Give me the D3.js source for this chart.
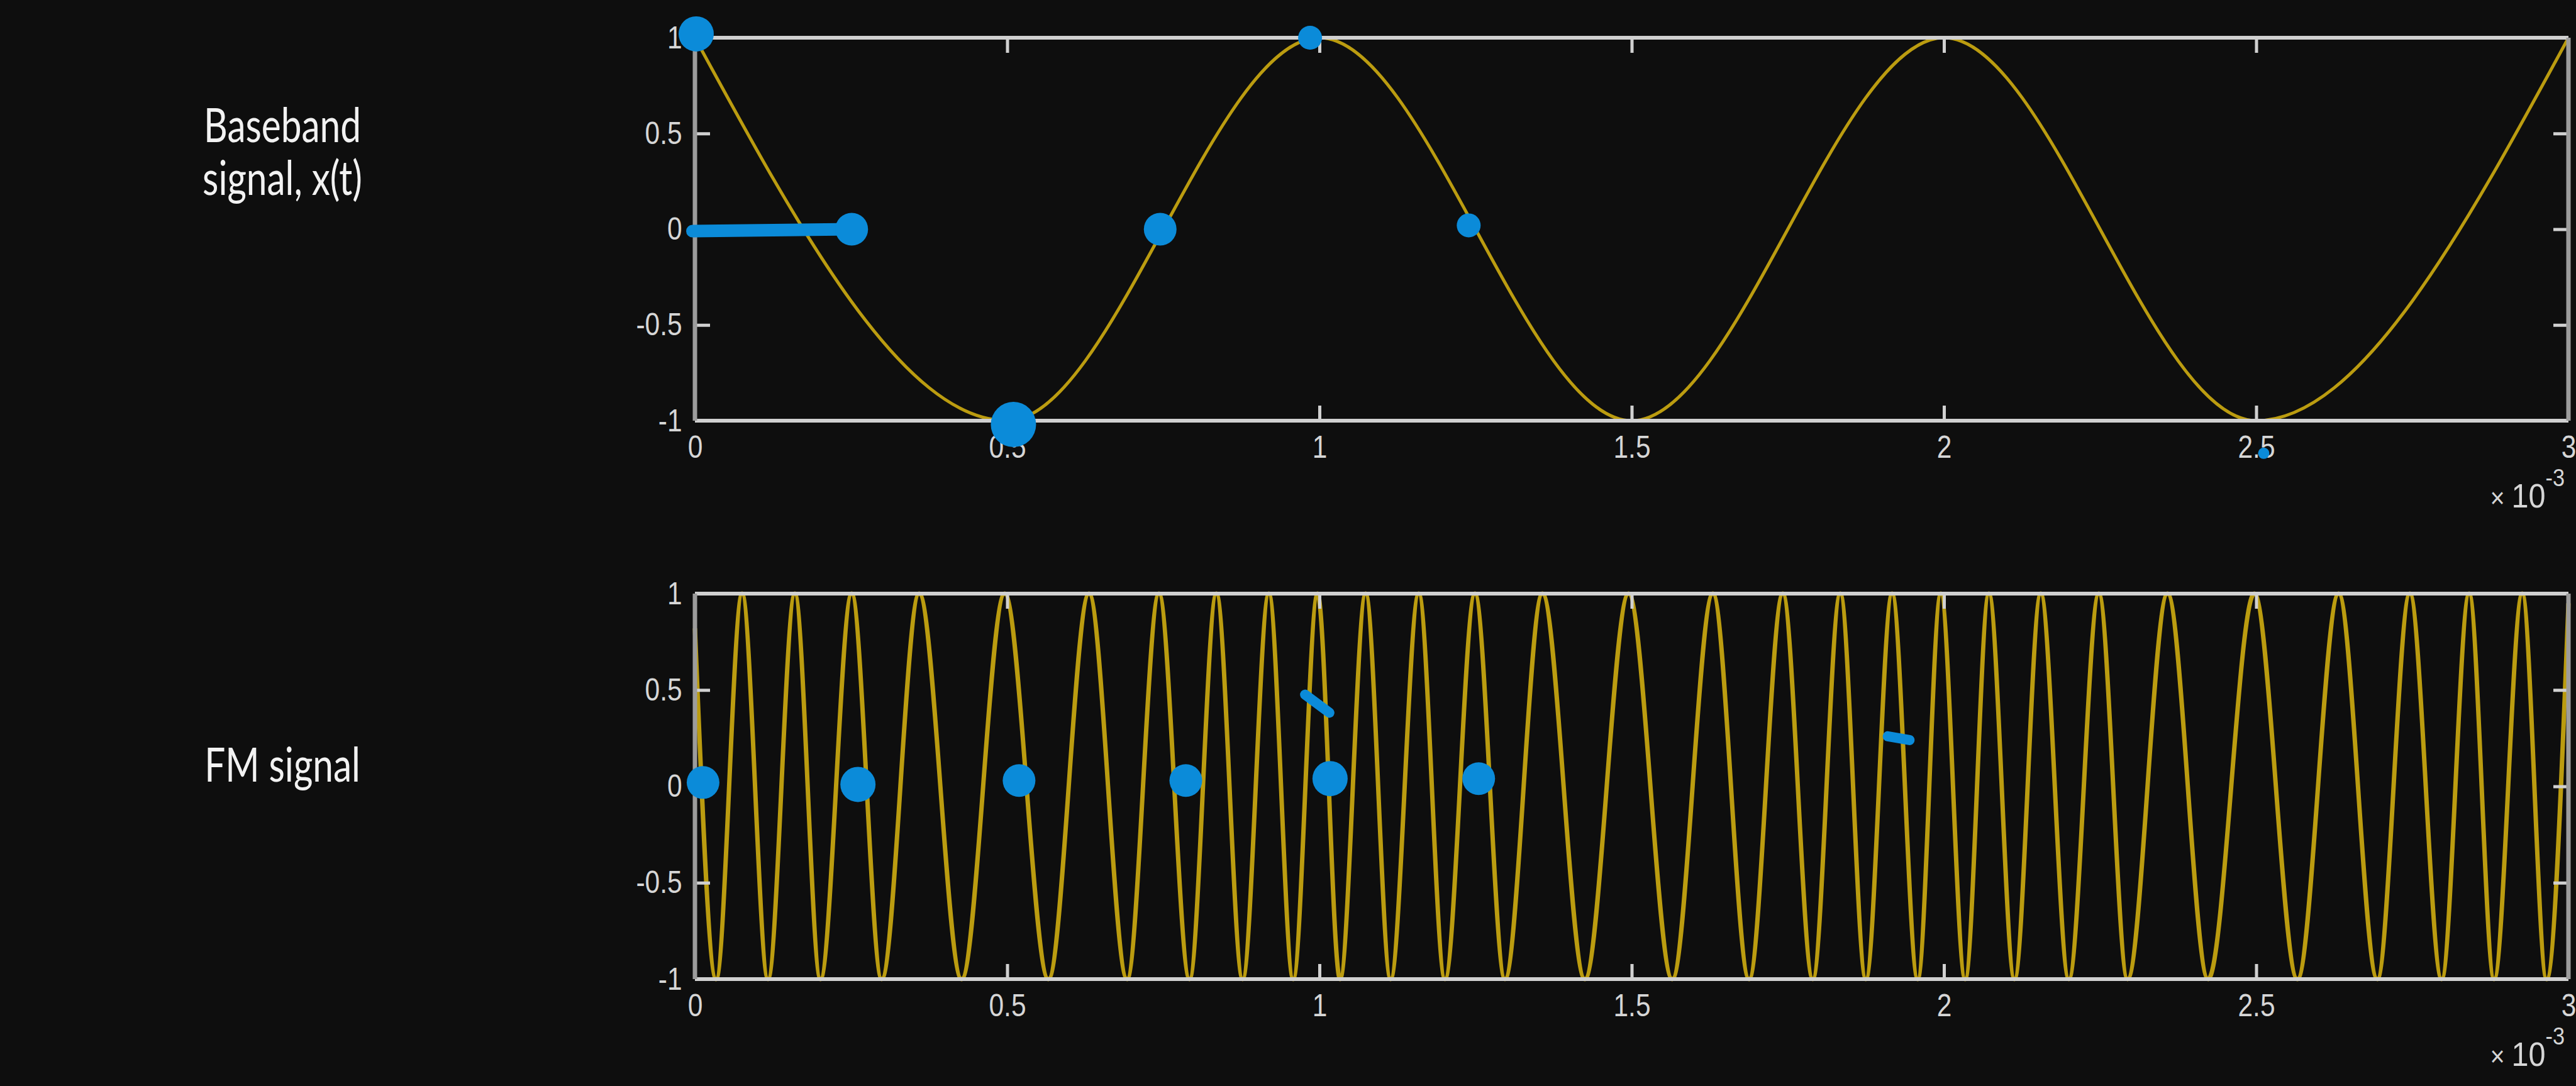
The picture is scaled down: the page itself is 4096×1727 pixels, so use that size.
<!DOCTYPE html>
<html><head><meta charset="utf-8">
<script src="https://cdn.jsdelivr.net/npm/d3@7"></script>
<style>html,body{margin:0;padding:0;background:#0e0e0e;overflow:hidden}</style>
</head><body><svg id="c" width="4096" height="1727"></svg>
<script>
// ---------- data ----------
const xTicks = [0, 0.5, 1, 1.5, 2, 2.5, 3];            // time, x 10^-3 s
const xTickLabels = ["0", "0.5", "1", "1.5", "2", "2.5", "3"];
const yTicks = [-1, -0.5, 0, 0.5, 1];
const yTickLabels = ["-1", "-0.5", "0", "0.5", "1"];

// baseband signal x(t): extrema
const basebandT = [0, 0.5, 1, 1.5, 2, 2.5, 3];
const basebandV = [1, -1, 1, -1, 1, -1, 1];

// FM signal: start, peaks/troughs, end
const fmT = [0, 0.034, 0.0755, 0.117, 0.160, 0.201, 0.251, 0.299, 0.359, 0.427, 0.496, 0.566,
  0.631, 0.692, 0.743, 0.792, 0.835, 0.877, 0.919, 0.958, 0.997, 1.033, 1.074, 1.114, 1.159,
  1.201, 1.249, 1.297, 1.357, 1.425, 1.495, 1.565, 1.630, 1.688, 1.742, 1.790,
  1.834, 1.875, 1.917, 1.958, 1.995, 2.034, 2.072, 2.113, 2.155, 2.200, 2.248, 2.294, 2.358,
  2.423, 2.497, 2.566, 2.632, 2.694, 2.746, 2.797, 2.841, 2.881, 2.926, 2.965, 3.0];
const fmV = [0.82, -1, 1, -1, 1, -1, 1, -1, 1, -1, 1, -1,
  1, -1, 1, -1, 1, -1, 1, -1, 1, -1, 1, -1, 1,
  -1, 1, -1, 1, -1, 1, -1, 1, -1, 1, -1,
  1, -1, 1, -1, 1, -1, 1, -1, 1, -1, 1, -1, 1,
  -1, 1, -1, 1, -1, 1, -1, 1, -1, 1, -1, 0.95];

const titleTop = ["Baseband", "signal, x(t)"];
const titleBottom = ["FM signal"];
const exponentBase = "10";
const exponentPow = "-3";

// hand-drawn blue marks (data coords)
const topDotT = [0.002, 0.251, 0.51, 0.745, 0.985, 1.239, 2.512];
const topDotV = [1.02, 0, -1.02, 0.0, 1.0, 0.02, -1.17];
const topDotKind = ["L", "M", "XL", "M", "S", "S", "XS"];
const topStrokeT = [[-0.004, 0.251]];
const topStrokeV = [[-0.01, 0]];
const botDotT = [0.013, 0.261, 0.519, 0.786, 1.017, 1.255];
const botDotV = [0.02, 0.01, 0.03, 0.03, 0.04, 0.04];
const botDotKind = ["M", "L", "M", "M", "L", "M"];
const botStrokeT = [[0.977, 1.016], [1.910, 1.945]];
const botStrokeV = [[0.476, 0.382], [0.26, 0.24]];

// ---------- styles / layout ----------
const W = 4096, H = 1727;
const X0 = 1105, X1 = 4084;
const panels = [
  {y0: 60, y1: 669, t: basebandT, v: basebandV, lw: 5, title: titleTop, ty: [226, 310], dotT: topDotT, dotV: topDotV, dotK: topDotKind, sT: topStrokeT, sV: topStrokeV},
  {y0: 944, y1: 1557, t: fmT, v: fmV, lw: 7, title: titleBottom, ty: [1243], dotT: botDotT, dotV: botDotV, dotK: botDotKind, sT: botStrokeT, sV: botStrokeV}
];
const dotR = {XS: 9, S: 19, M: 26, L: 28, XL: 36};
const LINE = "#bb9c10", BLUE = "#0b8bd9", AX = "#d0d0d0", AXV = "#9c9c9c", TXT = "#d6d6d6";
const tickFont = "'Liberation Sans', Arial, sans-serif";
const titleX = 449;

const svg = d3.select("#c");
svg.append("rect").attr("width", W).attr("height", H).attr("fill", "#0e0e0e");

const x = d3.scaleLinear().domain([0, 3]).range([X0, X1]);

panels.forEach((p, pi) => {
  const y = d3.scaleLinear().domain([-1, 1]).range([p.y1, p.y0]);
  const g = svg.append("g");

  // signal
  const pts = p.t.map((t, i) => [t, p.v[i]]);
  g.append("path").datum(pts)
    .attr("d", d3.line().x(d => x(d[0])).y(d => y(d[1])).curve(d3.curveMonotoneX))
    .attr("fill", "none").attr("stroke", LINE).attr("stroke-width", p.lw)
    .attr("stroke-linejoin", "round");

  // axes (inward ticks on all sides)
  const fmtX = (d, i) => xTickLabels[i];
  const fmtY = (d, i) => yTickLabels[i];
  const ab = g.append("g").attr("transform", `translate(0,${p.y1})`)
    .call(d3.axisBottom(x).tickValues(xTicks).tickFormat(fmtX).tickSize(-24).tickSizeOuter(0).tickPadding(24));
  const at = g.append("g").attr("transform", `translate(0,${p.y0})`)
    .call(d3.axisTop(x).tickValues(xTicks).tickFormat("").tickSize(-24).tickSizeOuter(0));
  const al = g.append("g").attr("transform", `translate(${X0},0)`)
    .call(d3.axisLeft(y).tickValues(yTicks).tickFormat(fmtY).tickSize(-24).tickSizeOuter(0).tickPadding(24));
  const ar = g.append("g").attr("transform", `translate(${X1},0)`)
    .call(d3.axisRight(y).tickValues(yTicks).tickFormat("").tickSize(-24).tickSizeOuter(0));
  [ab, at, al, ar].forEach(a => {
    a.select(".domain").remove();
    a.selectAll(".tick line").attr("stroke", AX).attr("stroke-width", 5);
    a.selectAll(".tick text").attr("fill", TXT).attr("font-family", tickFont).attr("font-size", 50)
      .attr("transform", "scale(0.85,1)");
  });

  // box
  g.append("line").attr("x1", X0).attr("x2", X1).attr("y1", p.y0).attr("y2", p.y0).attr("stroke", AX).attr("stroke-width", 6);
  g.append("line").attr("x1", X0).attr("x2", X1).attr("y1", p.y1).attr("y2", p.y1).attr("stroke", AX).attr("stroke-width", 6);
  g.append("line").attr("x1", X0).attr("x2", X0).attr("y1", p.y0).attr("y2", p.y1).attr("stroke", AXV).attr("stroke-width", 7);
  g.append("line").attr("x1", X1).attr("x2", X1).attr("y1", p.y0).attr("y2", p.y1).attr("stroke", AXV).attr("stroke-width", 7);

  // x 10^-3
  const ex = g.append("text").attr("text-anchor", "end")
    .attr("transform", `translate(4078,${p.y1 + 138}) scale(0.9,1)`)
    .attr("fill", TXT).attr("font-family", tickFont).attr("font-size", 54);
  ex.append("tspan").attr("font-size", 44).text("\u00d7 ");
  ex.append("tspan").text(exponentBase);
  ex.append("tspan").attr("font-size", 38).attr("dy", -34).text(exponentPow);

  // titles
  p.title.forEach((s, i) => {
    svg.append("text")
      .attr("transform", `translate(${titleX},${p.ty[i]}) scale(0.77,1)`)
      .attr("text-anchor", "middle")
      .attr("fill", "#f2f2f2").attr("font-family", "Lato, 'Open Sans', sans-serif")
      .attr("font-size", 76).text(s);
  });

  // blue hand marks
  p.sT.forEach((ts, i) => {
    svg.append("line").attr("x1", x(ts[0])).attr("x2", x(ts[1]))
      .attr("y1", y(p.sV[i][0])).attr("y2", y(p.sV[i][1]))
      .attr("stroke", BLUE).attr("stroke-width", pi === 0 ? 20 : 16).attr("stroke-linecap", "round");
  });
  p.dotT.forEach((t, i) => {
    svg.append("circle").attr("cx", x(t)).attr("cy", y(p.dotV[i])).attr("r", dotR[p.dotK[i]]).attr("fill", BLUE);
  });
});
</script></body></html>
